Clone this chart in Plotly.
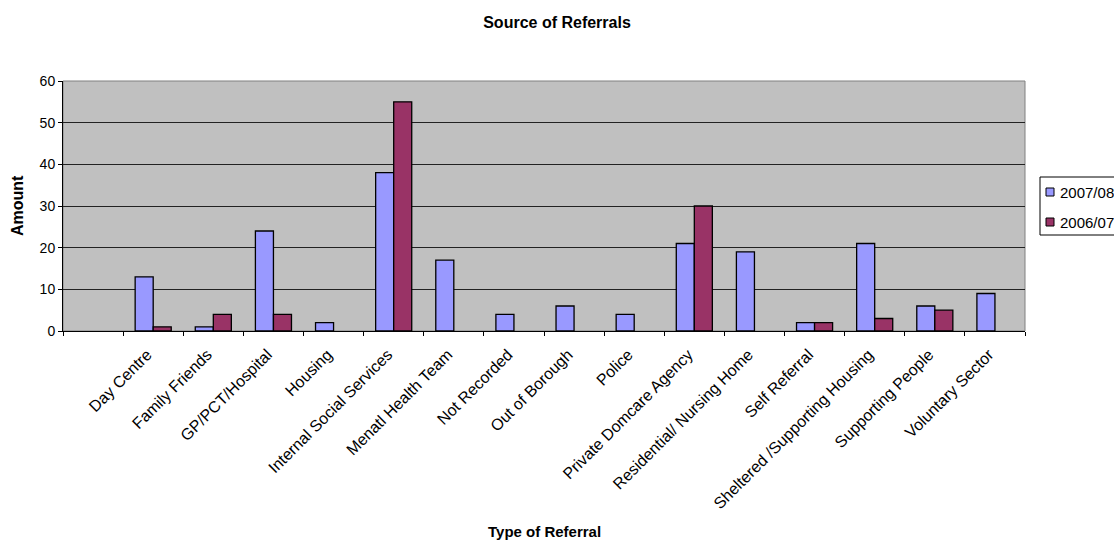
import plotly.graph_objects as go

categories = ["", "Day Centre", "Family Friends", "GP/PCT/Hospital", "Housing",
              "Internal Social Services", "Menatl Health Team", "Not Recorded",
              "Out of Borough", "Police", "Private Domcare Agency",
              "Residential/ Nursing Home", "Self Referral",
              "Sheltered /Supporting Housing", "Supporting People", "Voluntary Sector"]
series_names = ["2007/08", "2006/07"]
series_colors = ["#9999FF", "#993366"]
values_0708 = [None, 13, 1, 24, 2, 38, 17, 4, 6, 4, 21, 19, 2, 21, 6, 9]
values_0607 = [None, 1, 4, 4, None, 55, None, None, None, None, 30, None, 2, 3, 5, None]
y_ticks = [0, 10, 20, 30, 40, 50, 60]

FONT = "Liberation Sans, Arial, sans-serif"
W, H = 1114, 544
L, R, T, B = 63, 1025, 81, 331   # plot area edges in pixels


def px(x):
    return (x - L) / (R - L)


def py(y):
    return (B - y) / (B - T)


fig = go.Figure()
for name, vals, col in zip(series_names, [values_0708, values_0607], series_colors):
    fig.add_trace(go.Bar(x=categories, y=vals, name=name,
                         marker=dict(color=col, line=dict(color="black", width=1.3))))

# legend box drawn at the right edge
shapes = [dict(type="rect", xref="paper", yref="paper", x0=0, x1=1, y0=0, y1=1,
               line=dict(color="#808080", width=1), layer="below"),
          dict(type="rect", xref="paper", yref="paper",
               x0=px(1040), x1=px(1130), y0=py(235), y1=py(177),
               line=dict(color="black", width=1), fillcolor="white")]
annotations = [
    dict(text="<b>Type of Referral</b>", xref="paper", yref="paper",
         x=px(544), y=py(542), xanchor="center", yanchor="bottom",
         showarrow=False, font=dict(size=15)),
    dict(text="<b>Amount</b>", xref="paper", yref="paper",
         x=px(17), y=0.5, xanchor="center", yanchor="middle",
         textangle=-90, showarrow=False, font=dict(size=16)),
]
for i, (name, col) in enumerate(zip(series_names, series_colors)):
    cy = 192 + i * 30
    shapes.append(dict(type="rect", xref="paper", yref="paper",
                       x0=px(1046), x1=px(1054), y0=py(cy + 4), y1=py(cy - 4),
                       line=dict(color="black", width=1), fillcolor=col))
    annotations.append(dict(text=name, xref="paper", yref="paper",
                            x=px(1058), y=py(cy), xanchor="left", yanchor="middle",
                            showarrow=False, font=dict(size=15)))

fig.update_layout(
    width=W, height=H,
    margin=dict(l=L, r=W - R, t=T, b=H - B, autoexpand=False),
    paper_bgcolor="white", plot_bgcolor="#C0C0C0",
    barmode="group", bargap=0.4, bargroupgap=0,
    font=dict(family=FONT, size=14, color="black"),
    title=dict(text="<b>Source of Referrals</b>", x=0.5, xanchor="center",
               y=1 - 22 / H, yanchor="middle", font=dict(size=16)),
    showlegend=False,
    xaxis=dict(type="category", tickangle=-45, tickson="boundaries",
               ticks="outside", ticklen=4, tickcolor="black",
               showline=True, linecolor="black", linewidth=1,
               showgrid=False, tickfont=dict(size=16),
               ticklabelstandoff=7, ticklabelshift=-6),
    yaxis=dict(range=[0, 60], tickvals=y_ticks, ticks="outside", ticklen=4,
               tickcolor="black", showline=True, linecolor="black", linewidth=1,
               showgrid=True, gridcolor="#222222", gridwidth=1,
               zeroline=False, tickfont=dict(size=14)),
    shapes=shapes,
    annotations=annotations,
)

fig.write_html("out.html")
